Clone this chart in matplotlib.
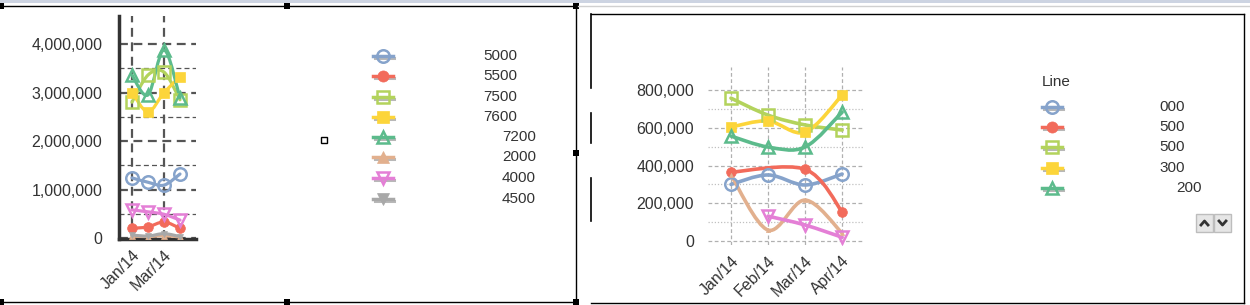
import numpy as np
import matplotlib
matplotlib.use("Agg")
import matplotlib.pyplot as plt
from matplotlib.path import Path
from matplotlib.patches import PathPatch, Rectangle
from matplotlib.lines import Line2D
from matplotlib.ticker import FuncFormatter, MultipleLocator, FixedLocator

plt.rcParams['font.family'] = ['Liberation Sans', 'DejaVu Sans']

W, H = 1250, 305

months = ["Jan/14", "Feb/14", "Mar/14", "Apr/14"]

# left chart
left_names = ["5000", "5500", "7500", "7600", "7200", "2000", "4000", "4500"]
left_5000 = [1240000, 1150000, 1090000, 1320000]
left_5500 = [200000, 230000, 330000, 200000]
left_7500 = [2800000, 3360000, 3420000, 2850000]
left_7600 = [3000000, 2600000, 3000000, 3320000]
left_7200 = [3360000, 2950000, 3880000, 2890000]
left_2000 = [40000, 30000, 50000, 20000]
left_4000 = [580000, 540000, 490000, 370000]
left_4500 = [60000, 40000, 90000, 30000]
left_minor = [500000, 1500000, 2500000, 3500000]

# right chart
right_names = ["000", "500", "500", "300", "200"]
right_000 = [300000, 350000, 297000, 355000]
right_500 = [365000, np.nan, 380000, 155000]
right_500b = [757000, 667000, 615000, 588000]
right_300 = [604000, 636000, 577000, 773000]
right_200 = [556000, 498000, 498000, 683000]
right_tan = [350000, 58000, 217000, 42000]
right_pink = [np.nan, 132000, 85000, 20000]
right_minor = [100000, 300000, 500000, 700000]

# colour, marker, filled
styles = [
    ("#86a3cb", "o", False),
    ("#f26b5b", "o", True),
    ("#b3d35c", "s", False),
    ("#fcd53a", "s", True),
    ("#5cbb8c", "^", False),
    ("#e2b08e", "^", True),
    ("#e47fd6", "v", False),
    ("#a8a8a8", "v", True),
]


def fx(x):
    return x / W


def fy(y):
    return 1 - y / H


def smooth_line(ax, xs, ys, color, lw):
    pts = [(x, y) for x, y in zip(xs, ys) if not np.isnan(y)]
    if len(pts) < 2:
        return
    p = np.array(pts, dtype=float)
    verts = [p[0]]
    codes = [Path.MOVETO]
    n = len(p)
    for i in range(n - 1):
        p0 = p[i - 1] if i > 0 else p[i]
        p3 = p[i + 2] if i + 2 < n else p[i + 1]
        c1 = p[i] + (p[i + 1] - p0) / 6
        c2 = p[i + 1] - (p3 - p[i]) / 6
        verts += [c1, c2, p[i + 1]]
        codes += [Path.CURVE4] * 3
    ax.add_patch(PathPatch(Path(verts, codes), fill=False, edgecolor=color,
                           lw=lw, capstyle="round", joinstyle="round", zorder=3))


def draw_series(ax, ys, style, ms, lw=2.3):
    color, marker, filled = style
    xs = np.arange(len(months))
    smooth_line(ax, xs, ys, color, lw)
    if filled:
        ax.plot(xs, ys, linestyle="none", marker=marker, ms=ms - 2, mew=0.5,
                mec=color, mfc=color, zorder=4)
    else:
        ax.plot(xs, ys, linestyle="none", marker=marker, ms=ms, mew=1.8,
                mec=color, mfc="none", zorder=4)


def fig_line(fig, xs, ys, color, lw):
    fig.add_artist(Line2D([fx(x) for x in xs], [fy(y) for y in ys],
                          color=color, lw=lw, transform=fig.transFigure))


def legend_entry(fig, x, y, style):
    color, marker, filled = style
    # shadow
    fig.add_artist(Line2D([fx(x - 8), fx(x + 11)], [fy(y + 2)] * 2,
                          color="#9a9a9a", lw=2.2, alpha=0.7, transform=fig.transFigure))
    fig.add_artist(Line2D([fx(x - 10), fx(x + 10)], [fy(y)] * 2, color=color, lw=2.5,
                          transform=fig.transFigure))
    if filled:
        fig.add_artist(Line2D([fx(x)], [fy(y)], color=color, marker=marker, ms=8, mew=0.5,
                              mec=color, mfc=color, lw=0, transform=fig.transFigure))
    else:
        fig.add_artist(Line2D([fx(x)], [fy(y)], color=color, marker=marker, ms=9, mew=1.8,
                              mec=color, mfc="none", lw=0, transform=fig.transFigure))


fig = plt.figure(figsize=(12.5, 3.05), dpi=100)
fmt = FuncFormatter(lambda v, p: f"{int(round(v)):,}")

# ---------- left chart ----------
ax1 = fig.add_axes([fx(119), fy(239), fx(196 - 119), (239 - 16) / H])
left_data = [left_5000, left_5500, left_7500, left_7600,
             left_7200, left_2000, left_4000, left_4500]
for i, (ys, st) in enumerate(zip(left_data, styles)):
    draw_series(ax1, ys, st, ms=7 if i in (5, 7) else 9, lw=2.3)
ax1.set_xlim(-0.81, 4.0)
ax1.set_ylim(-20000, 4577000)
ax1.yaxis.set_major_locator(FixedLocator([0, 1000000, 2000000, 3000000, 4000000]))
ax1.yaxis.set_minor_locator(FixedLocator(left_minor))
ax1.yaxis.set_major_formatter(fmt)
ax1.set_xticks([0, 2])
ax1.set_xticklabels([months[0], months[2]], rotation=45, ha="right",
                    rotation_mode="anchor")
ax1.grid(True, which="major", axis="both", color="#555555", lw=1.6, ls=(0, (4, 2.5)))
ax1.grid(True, which="minor", axis="y", color="#555555", lw=0.9, ls=(0, (4, 2.5)))
ax1.set_axisbelow(True)
for s in ["top", "right"]:
    ax1.spines[s].set_visible(False)
for s in ["left", "bottom"]:
    ax1.spines[s].set_color("#333333")
    ax1.spines[s].set_linewidth(2.5)
ax1.tick_params(axis="both", which="both", length=0, labelsize=11.5, colors="#333333")
ax1.tick_params(axis="y", pad=12)
ax1.tick_params(axis="x", pad=6)
ax1.patch.set_alpha(0)

# left legend
left_rows = [56, 76, 97, 117, 137, 157, 178, 199]
left_text_x = [483, 483, 483, 483, 502, 502, 502, 502]
for name, st, y, tx in zip(left_names, styles, left_rows, left_text_x):
    legend_entry(fig, 383, y, st)
    fig.text(fx(tx), fy(y), name, ha="left", va="center", fontsize=11, color="#333333")

# ---------- right chart ----------
ax2 = fig.add_axes([fx(708), fy(245), fx(864 - 708), (245 - 67) / H])
right_data = [right_000, right_500, right_500b, right_300, right_200, right_tan, right_pink]
for i, (ys, st) in enumerate(zip(right_data, styles)):
    draw_series(ax2, ys, st, ms=5 if i == 5 else 9, lw=2.6)
ax2.set_xlim(-0.62, 3.59)
ax2.set_ylim(-21000, 922000)
ax2.yaxis.set_major_locator(MultipleLocator(200000))
ax2.yaxis.set_minor_locator(FixedLocator(right_minor))
ax2.yaxis.set_major_formatter(fmt)
ax2.set_xticks(range(len(months)))
ax2.set_xticklabels(months, rotation=45, ha="right", rotation_mode="anchor")
ax2.grid(True, which="major", axis="both", color="#b0b0b0", lw=0.9, ls=(0, (3, 2)))
ax2.grid(True, which="minor", axis="y", color="#c0c0c0", lw=0.9, ls=(0, (1, 1.5)))
ax2.set_axisbelow(True)
for s in ax2.spines.values():
    s.set_visible(False)
ax2.tick_params(axis="both", which="both", length=0, labelsize=11.5, colors="#333333")
ax2.tick_params(axis="y", pad=10)
ax2.tick_params(axis="x", pad=6)
ax2.patch.set_alpha(0)

# right legend
fig.text(fx(1042), fy(82), "Line", ha="left", va="center", fontsize=11, color="#333333")
right_rows = [107, 127, 147, 168, 188]
right_text_x = [1185, 1185, 1185, 1185, 1202]
for name, st, y, tx in zip(right_names, styles, right_rows, right_text_x):
    legend_entry(fig, 1052, y, st)
    fig.text(fx(tx), fy(y), name, ha="right", va="center", fontsize=11, color="#333333")

# ---------- frames and window bits ----------
fig.add_artist(Rectangle((0, fy(3)), 1, 3 / H, transform=fig.transFigure,
                         facecolor="#cdd4e2", edgecolor="none"))
fig_line(fig, [578, 1250], [6, 6], "#d0d0d0", 1)
# left panel frame
fig_line(fig, [0, 576], [6, 6], "black", 1)
fig_line(fig, [0, 576], [302, 302], "black", 1)
fig_line(fig, [576, 576], [6, 302], "black", 1)
for hx, hy in [(1, 6), (287, 6), (576, 6), (576, 153), (576, 302), (287, 302), (1, 302)]:
    fig.add_artist(Rectangle((fx(hx - 3), fy(hy + 3)), 6 / W, 6 / H,
                             transform=fig.transFigure, facecolor="black", edgecolor="none"))
fig.add_artist(Rectangle((fx(321), fy(143)), 6 / W, 6 / H, transform=fig.transFigure,
                         facecolor="white", edgecolor="black", lw=1))
# right panel frame
fig_line(fig, [591, 1244], [14, 14], "black", 1)
fig_line(fig, [591, 1244], [303, 303], "black", 1)
fig_line(fig, [1244, 1244], [14, 303], "black", 1)
fig_line(fig, [591, 591], [14, 88], "black", 1.2)
fig_line(fig, [591, 591], [113, 143], "black", 1.2)
fig_line(fig, [591, 591], [178, 221], "black", 1.2)

# scroll buttons
for bx in [1196, 1214]:
    fig.add_artist(Rectangle((fx(bx), fy(232)), 17 / W, 18 / H, transform=fig.transFigure,
                             facecolor="#e6e6e6", edgecolor="#bdbdbd", lw=1))
fig_line(fig, [1201, 1204.5, 1208], [225, 221, 225], "#333333", 2)
fig_line(fig, [1219, 1222.5, 1226], [221, 225, 221], "#333333", 2)

fig.savefig("out.png", dpi=100)
